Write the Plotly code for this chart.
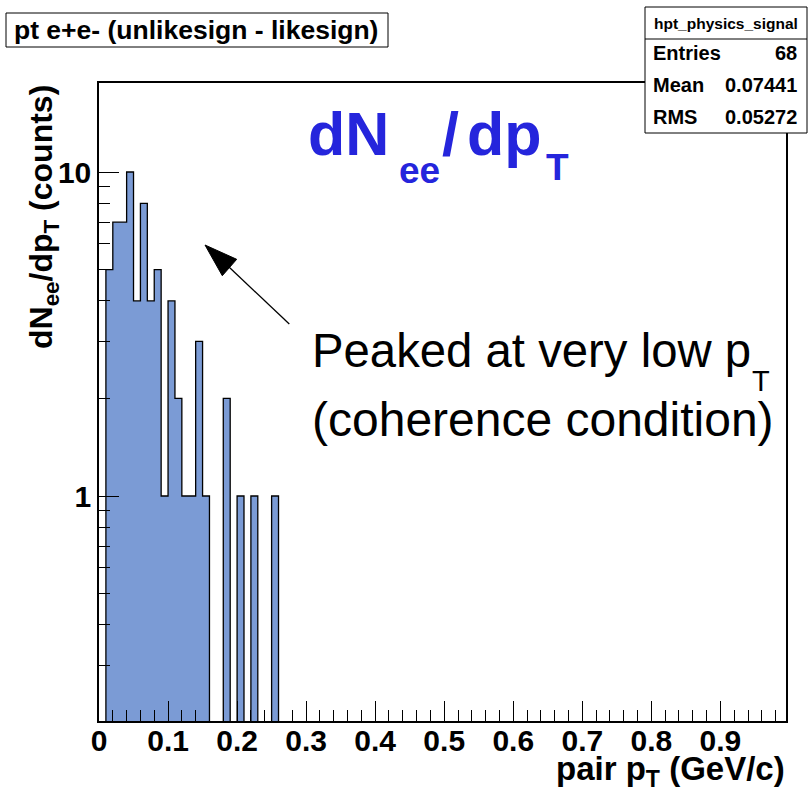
import plotly.graph_objects as go

# ---------------- data ----------------
bin_width = 0.01
bin_low_edges = [0.00, 0.01, 0.02, 0.03, 0.04, 0.05, 0.06, 0.07, 0.08, 0.09,
                 0.10, 0.11, 0.12, 0.13, 0.14, 0.15, 0.16, 0.17, 0.18, 0.19,
                 0.20, 0.21, 0.22, 0.23, 0.24, 0.25]
counts = [0, 5, 7, 7, 10, 4, 8, 4, 5, 1,
          4, 2, 1, 1, 3, 1, 0, 0, 2, 0,
          1, 0, 1, 0, 0, 1]

x_tick_vals = [0, 0.1, 0.2, 0.3, 0.4, 0.5, 0.6, 0.7, 0.8, 0.9]
x_tick_text = ["0", "0.1", "0.2", "0.3", "0.4", "0.5", "0.6", "0.7", "0.8", "0.9"]
x_minor_vals = [0.02, 0.04, 0.06, 0.08, 0.12, 0.14, 0.16, 0.18, 0.22, 0.24, 0.26, 0.28,
                0.32, 0.34, 0.36, 0.38, 0.42, 0.44, 0.46, 0.48, 0.52, 0.54, 0.56, 0.58,
                0.62, 0.64, 0.66, 0.68, 0.72, 0.74, 0.76, 0.78, 0.82, 0.84, 0.86, 0.88,
                0.92, 0.94, 0.96, 0.98]
y_tick_vals = [1, 10]
y_tick_text = ["1", "10"]
y_minor_vals = [0.3, 0.4, 0.5, 0.6, 0.7, 0.8, 0.9, 2, 3, 4, 5, 6, 7, 8, 9]

hist_title = "pt e+e- (unlikesign - likesign)"
stats_name = "hpt_physics_signal"
stats_labels = ["Entries", "Mean", "RMS"]
stats_values = ["68", "0.07441", "0.05272"]

# ---------------- geometry helpers (pixel -> paper) ----------------
W, H = 809, 793
L, R, T, B = 99, 786, 83, 721


def px(x):
    return (x - L) / (R - L)


def py(y):
    return (B - y) / (B - T)


FONT = "Liberation Sans, Arial, sans-serif"

# ---------------- histogram outline path ----------------
floor = 1e-3
xs = [bin_low_edges[0]]
ys = [floor]
for lo, c in zip(bin_low_edges, counts):
    v = c if c > 0 else floor
    xs += [lo, lo + bin_width]
    ys += [v, v]
xs.append(bin_low_edges[-1] + bin_width)
ys.append(floor)

fig = go.Figure()
fig.add_trace(go.Scatter(
    x=xs, y=ys, mode="lines", fill="toself", fillcolor="#7b9bd5",
    line=dict(color="black", width=1.3), hoverinfo="skip", showlegend=False))

axis_common = dict(
    showline=True, mirror=True, linecolor="black", linewidth=1.5,
    ticks="inside", ticklen=20, tickwidth=1, tickcolor="black",
    showgrid=False, zeroline=False,
    tickfont=dict(family=FONT, size=30, color="black", weight="bold"),
)

fig.update_layout(
    width=W, height=H,
    margin=dict(l=L, r=W - R, t=T, b=H - B),
    paper_bgcolor="white", plot_bgcolor="white",
    showlegend=False,
    xaxis=dict(range=[0, 0.995], tickmode="array", tickvals=x_tick_vals, ticktext=x_tick_text,
               minor=dict(ticks="inside", ticklen=11, tickwidth=1, tickcolor="black",
                          tickmode="array", tickvals=x_minor_vals, showgrid=False),
               ticklabelstandoff=-8,
               **axis_common),
    yaxis=dict(type="log", range=[-0.6944, 1.2747], tickmode="array",
               tickvals=y_tick_vals, ticktext=y_tick_text,
               minor=dict(ticks="inside", ticklen=11, tickwidth=1, tickcolor="black",
                          tickmode="array", tickvals=y_minor_vals, showgrid=False),
               ticklabelstandoff=0,
               **axis_common),
)

shapes = []
annotations = []


def add_text(text, x_px, baseline_px, size, anchor="left", color="black", bold=False):
    y_center = baseline_px - 0.3465 * size
    annotations.append(dict(
        text=text, x=px(x_px), y=py(y_center), xref="paper", yref="paper",
        xanchor=anchor, yanchor="middle", showarrow=False, borderpad=0,
        font=dict(family=FONT, size=size, color=color, weight="bold" if bold else "normal")))


# title box
shapes.append(dict(type="rect", xref="paper", yref="paper",
                   x0=px(6), x1=px(388), y0=py(13), y1=py(47),
                   line=dict(color="black", width=1), fillcolor="white"))
add_text(hist_title, 13, 39, 26.5, bold=True)

# stats box
shapes.append(dict(type="rect", xref="paper", yref="paper",
                   x0=px(645), x1=px(807), y0=py(7), y1=py(133),
                   line=dict(color="black", width=1), fillcolor="white"))
shapes.append(dict(type="line", xref="paper", yref="paper",
                   x0=px(645), x1=px(807), y0=py(39), y1=py(39),
                   line=dict(color="black", width=1)))
add_text(stats_name, 726, 28.5, 15.5, anchor="center", bold=True)
for i, (lab, val) in enumerate(zip(stats_labels, stats_values)):
    base = 60 + 32 * i
    add_text(lab, 652, base, 20, anchor="left", bold=True)
    add_text(val, 798, base, 20, anchor="right", bold=True)

# blue label dN_ee/dp_T
BLUE = "#2525dc"
add_text("dN", 307, 155, 61, color=BLUE, bold=True)
add_text("ee", 398, 183, 37, color=BLUE, bold=True)
add_text("/", 441, 155, 61, color=BLUE, bold=True)
add_text("dp", 466, 155, 61, color=BLUE, bold=True)
add_text("T", 545, 180, 37, color=BLUE, bold=True)

# comment text
add_text("Peaked at very low p", 311, 367, 47.3)
add_text("T", 751, 391, 29)
add_text("(coherence condition)", 311, 436, 48)

# axis titles
add_text("pair p<sub>T</sub> (GeV/c)", 786, 782, 33, anchor="right", bold=True)
annotations.append(dict(
    text="dN<sub>ee</sub>/dp<sub>T</sub> (counts)", x=px(44), y=py(84),
    xref="paper", yref="paper", xanchor="center", yanchor="top", showarrow=False,
    textangle=-90, borderpad=0,
    font=dict(family=FONT, size=32, color="black", weight="bold")))

# arrow
tip = (205, 245)
c1 = (222.3, 275.7)
c2 = (236.7, 259.3)
tail = (289.3, 324)
mid = ((c1[0] + c2[0]) / 2, (c1[1] + c2[1]) / 2)
shapes.append(dict(type="line", xref="paper", yref="paper",
                   x0=px(tail[0]), y0=py(tail[1]), x1=px(mid[0]), y1=py(mid[1]),
                   line=dict(color="black", width=1.3)))
shapes.append(dict(type="path", xref="paper", yref="paper",
                   path="M {} {} L {} {} L {} {} Z".format(px(tip[0]), py(tip[1]),
                                                         px(c1[0]), py(c1[1]),
                                                         px(c2[0]), py(c2[1])),
                   fillcolor="black", line=dict(color="black", width=1)))

fig.update_layout(shapes=shapes, annotations=annotations)
fig.write_html("out.html")
